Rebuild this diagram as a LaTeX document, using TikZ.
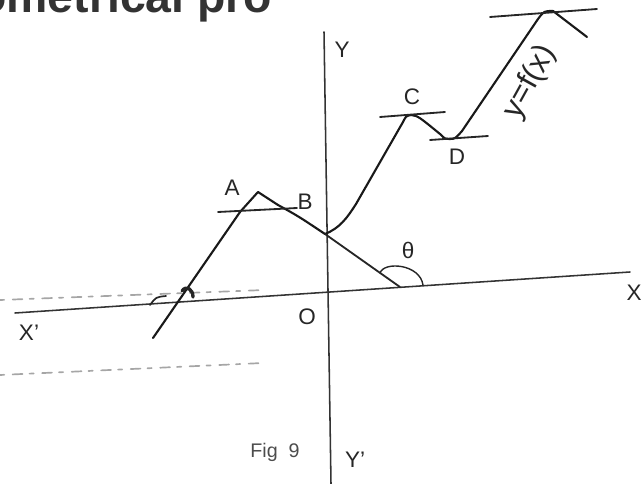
\documentclass[tikz,border=0pt]{standalone}
\usepackage{fontspec}
\setmainfont{Liberation Sans}
\usetikzlibrary{arrows}

\begin{document}
\begin{tikzpicture}[x=0.025cm,y=-0.025cm,line cap=round,line join=round]
  \tikzstyle{axis}=[draw=black!80,line width=1.1pt]
  \tikzstyle{curve}=[draw=black!90,line width=1.5pt]
  \tikzstyle{tangent}=[draw=black!85,line width=1.3pt]
  \tikzstyle{faint}=[draw=black!35,line width=1.2pt,dash pattern=on 3pt off 6pt on 7pt off 5pt]
  \tikzstyle{label}=[font=\fontsize{16}{16}\selectfont,text=black!85,inner sep=1pt]

  \useasboundingbox (0,0) rectangle (642,484);

  % heading line cut by the top edge
  \node[anchor=base west,inner sep=0pt,text=black!80,
        font=\fontsize{33}{33}\selectfont\bfseries] (head) at (-22,13) {ometrical pro};

  % axes
  \coordinate (xl) at (15,313);
  \coordinate (xr) at (630,272);
  \coordinate (yt) at (324,32);
  \coordinate (yb) at (331,484);
  \draw[axis] (xl) -- (xr);
  \draw[axis] (yt) -- (yb);
  \draw[faint] (0,300) -- (265,290);
  \draw[faint] (0,375) -- (263,363);

  % points on the curve
  \coordinate (P) at (153,338);
  \coordinate (A) at (258,192);
  \coordinate (B) at (325,234);
  \coordinate (C) at (411,115);
  \coordinate (D) at (449,139);
  \coordinate (E) at (553,11);
  \coordinate (Q) at (587,37);
  \coordinate (T) at (400,287);

  \draw[curve] (P) -- (240,212) -- (A) -- (278,205)
    .. controls (298,216) .. (B)
    .. controls (340,228) and (347,218) .. (356,204) -- (403,122)
    .. controls (406,116) .. (C)
    .. controls (418,116) .. (440,134)
    .. controls (445,139) .. (D)
    .. controls (455,139) .. (462,131) -- (538,19)
    .. controls (544,11) .. (E) -- (Q);

  % tangents
  \draw[tangent] (218,212) -- (297,208);
  \draw[tangent] (380,117) -- (445,112);
  \draw[tangent] (430,140) -- (488,136);
  \draw[tangent] (490,17) -- (597,9);
  \draw[tangent] (B) -- (T);
  \draw[black!85,line width=1pt] (423,285) .. controls (420,264) and (384,261) .. (380,273);
  \draw[black!85,line width=2.4pt] (193,297) .. controls (193,289) and (186,285) .. (182,291);
  \draw[black!85,line width=1.2pt] (166,296) .. controls (156,297) .. (150,305);

  % labels
  \node[label] (la) at (232,188) {A};
  \node[label] (lb) at (305,202) {B};
  \node[label] (lc) at (412,97) {C};
  \node[label] (ld) at (457,157) {D};
  \node[label] (lt) at (408,250) {θ};
  \node[label] (lo) at (307,317) {O};
  \node[label] (lx) at (634,293) {X};
  \node[label] (lxp) at (29,333) {X'};
  \node[label] (ly) at (342,50) {Y};
  \node[label] (lyp) at (355,460) {Y'};
  \node[label,rotate=61,font=\fontsize{22}{22}\selectfont] (lf) at (530,82) {y=f(x)};
  \node[font=\fontsize{14}{14}\selectfont,text=black!70] (fig) at (275,452) {Fig~~9};
\end{tikzpicture}
\end{document}
